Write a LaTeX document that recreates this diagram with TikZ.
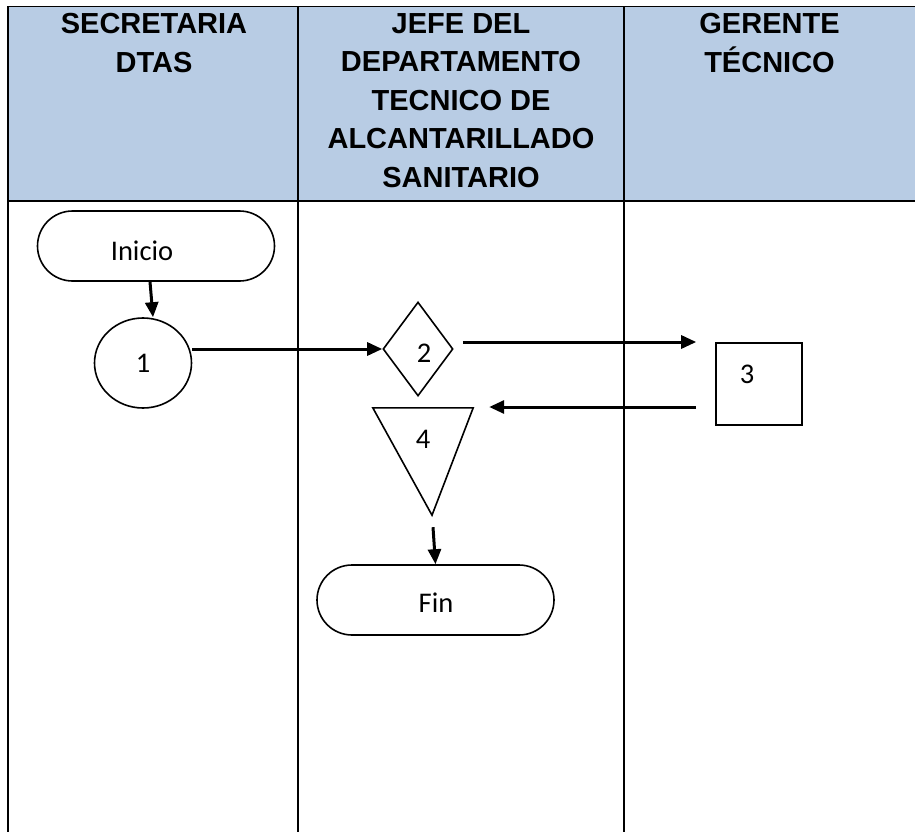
\documentclass[tikz,border=0pt]{standalone}
\usepackage{fontspec}
\setmainfont{Carlito}
\newfontfamily\headfont{Liberation Sans}
\usetikzlibrary{shapes.geometric,shapes.misc,arrows.meta}
\definecolor{hdr}{HTML}{B8CCE4}
\begin{document}
\begin{tikzpicture}[x=1pt,y=-1pt,
  shapeline/.style={draw, line width=1.6pt},
  conn/.style={line width=3pt, -{Triangle[length=15pt,width=13pt]}},
  lane/.style={line width=1.2pt},
  hdrtext/.style={font=\headfont\bfseries\fontsize{29}{38.5}\selectfont, align=center, anchor=north, inner sep=0pt},
  bodytext/.style={font=\fontsize{28.5}{32}\selectfont, inner sep=0pt},
  terminal/.style={shapeline, rounded rectangle, minimum width=237pt, minimum height=70pt, inner sep=0pt}]
\useasboundingbox (0,0) rectangle (915,832);
% table
\fill[hdr] (8,6.5) rectangle (915,201);
\draw[lane] (8,6.5) -- (915,6.5);
\draw[line width=1.6pt] (8,201) -- (915,201);
\draw[line width=1.8pt] (8,6.5) -- (8,832);
\draw[lane] (298,6.5) -- (298,832);
\draw[lane] (624,6.5) -- (624,832);
% headers
\node[hdrtext] (h1) at (154,13.2) {SECRETARIA\\DTAS};
\node[hdrtext] (h2) at (461,13.2) {JEFE DEL\\DEPARTAMENTO\\TECNICO DE\\ALCANTARILLADO\\SANITARIO};
\node[hdrtext] (h3) at (769.5,13.2) {GERENTE\\TÉCNICO};
% shapes
\node[terminal] (inicio) at (156,246) {};
\node[bodytext] (tinicio) at (142,251) {Inicio};
\node[shapeline, ellipse, minimum width=97pt, minimum height=90pt, inner sep=0pt] (n1) at (143,363) {};
\node[bodytext] (t1) at (143,363) {1};
\node[shapeline, diamond, minimum width=70pt, minimum height=94pt, inner sep=0pt] (n2) at (418,349) {};
\node[bodytext] (t2) at (424,353) {2};
\node[shapeline, rectangle, minimum width=86pt, minimum height=82pt, inner sep=0pt] (n3) at (759,384) {};
\node[bodytext] (t3) at (747,374) {3};
\node[minimum width=100pt, minimum height=107pt, inner sep=0pt] (n4) at (423,461.5) {};
\draw[shapeline, line join=miter] (n4.north west) -- (n4.north east) -- ([xshift=9pt]n4.south) -- cycle;
\node[bodytext] (t4) at (423,439) {4};
\node[terminal] (fin) at (435.5,600) {};
\node[bodytext] (tfin) at (436,603) {Fin};
% connectors
\draw[conn] ([xshift=-6pt]inicio.south) -- ([xshift=10pt]n1.north);
\draw[conn] (n1.east |- n2.west) -- (n2.west);
\coordinate (s23) at ([xshift=9pt,yshift=7pt]n2.east);
\coordinate (e23) at ([xshift=-19pt]n3.west);
\draw[conn] (s23) -- (e23 |- s23);
\coordinate (s34) at ([xshift=-19pt,yshift=-23pt]n3.west);
\coordinate (e34) at ([xshift=16pt]n4.north east);
\draw[conn] (s34) -- (e34 |- s34);
\draw[conn] ([xshift=10pt,yshift=-12pt]n4.south) -- (fin.north);
\end{tikzpicture}
\end{document}
